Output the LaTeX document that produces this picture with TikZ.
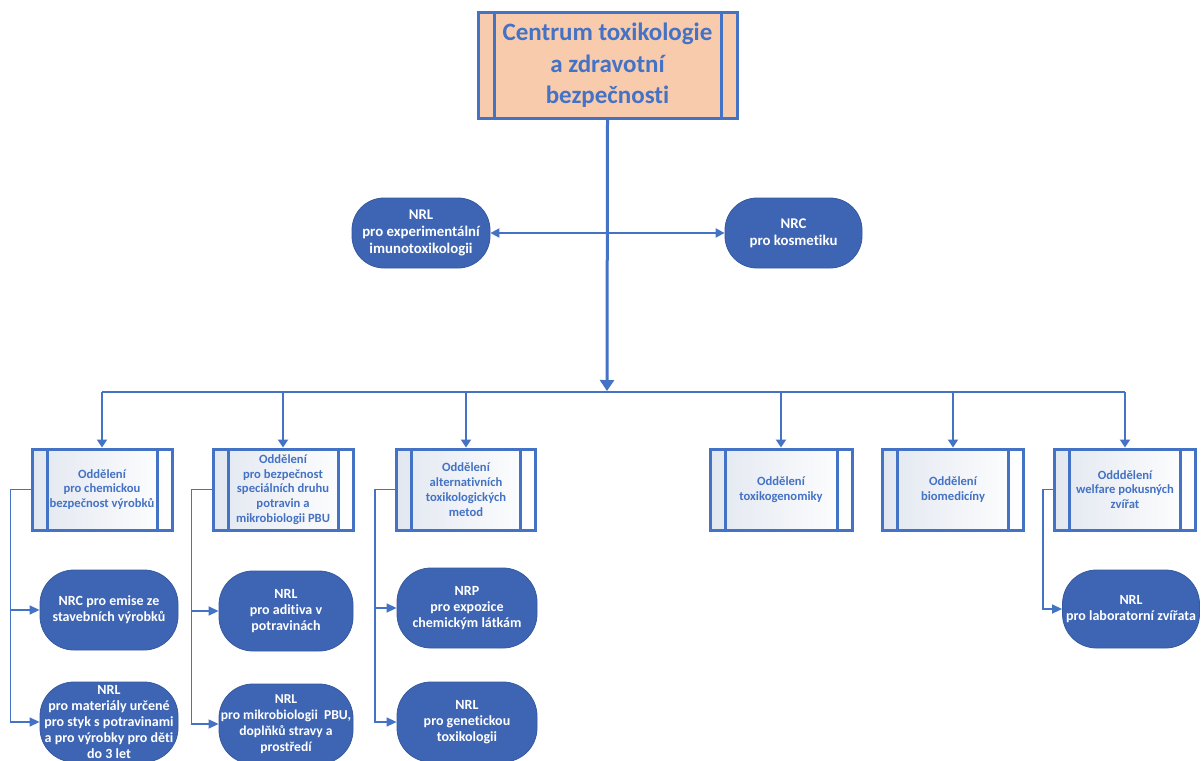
\documentclass[tikz,border=0pt]{standalone}
\usepackage{fontspec}
\setmainfont{Carlito}[Ligatures=NoCommon]
\usetikzlibrary{arrows.meta}

\definecolor{linkblue}{HTML}{4472C4}
\definecolor{labblue}{HTML}{3E65B3}
\definecolor{labedge}{HTML}{3559A0}
\definecolor{headfill}{HTML}{F8CBAD}
\definecolor{deptfill}{HTML}{E2E7F0}

\begin{document}
\begin{tikzpicture}[x=1pt,y=-1pt
		,every node/.append style={align=center, inner sep=0pt}
		,bars/.style={path picture={
			\draw[linkblue, line width=3pt]
				([xshift=#1]path picture bounding box.north west) -- ([xshift=#1]path picture bounding box.south west)
				([xshift=-#1]path picture bounding box.north east) -- ([xshift=-#1]path picture bounding box.south east);
		}}
		,head/.style={draw=linkblue, line width=3pt, fill=headfill, text=linkblue, bars=16pt
			,minimum width=259pt, minimum height=105pt, font=\fontsize{25pt}{31.5pt}\selectfont\bfseries}
		,dept/.style={draw=linkblue, line width=3pt, left color=deptfill, right color=white, text=linkblue, bars=15pt
			,minimum width=140pt, minimum height=81pt, font=\fontsize{12.6pt}{14.8pt}\selectfont\bfseries}
		,lab/.style={draw=labedge, line width=0.8pt, fill=labblue, text=white, rounded corners=34pt
			,minimum width=138pt, minimum height=80pt, font=\fontsize{14pt}{16pt}\selectfont\bfseries}
		,link/.style={draw=linkblue, line width=2pt}
		,side/.style={draw=linkblue, line width=1.4pt, -{Triangle[width=9pt,length=10pt]}}
	]
	\useasboundingbox (0,0) rectangle (1201,760);

	% centre
	\node [head] (centre) at (607.5,65.5) {Centrum toxikologie\\a zdravotní\\bezpečnosti};

	% NRL / NRC under the centre
	\node [lab, minimum height=70pt, rounded corners=32pt, font=\fontsize{14.8pt}{17pt}\selectfont\bfseries] (imuno) at (421,233) {NRL\\pro experimentální\\imunotoxikologii};
	\node [lab, minimum height=70pt, minimum width=137pt, rounded corners=32pt, font=\fontsize{14.8pt}{17pt}\selectfont\bfseries] (kosm) at (793.5,233) {NRC\\pro kosmetiku};

	% departments
	\node [dept] (chem) at (102,489.5) {Oddělení\\pro chemickou\\bezpečnost výrobků};
	\node [dept] (spec) at (283,489.5) {Oddělení\\pro bezpečnost\\speciálních druhu\\potravin a\\mikrobiologii PBU};
	\node [dept, minimum width=139pt] (alt) at (466,489.5) {Oddělení\\alternativních\\toxikologických\\metod};
	\node [dept, minimum width=142pt] (genom) at (781,489.5) {Oddělení\\toxikogenomiky};
	\node [dept, minimum width=141pt] (biomed) at (953,489.5) {Oddělení\\biomedicíny};
	\node [dept, minimum width=141pt] (welf) at (1125,489.5) {Odddělení\\welfare pokusných\\zvířat};

	% laboratories
	\node [lab] (emise) at (109,610) {NRC pro emise ze\\stavebních výrobků};
	\node [lab] (styk) at (109,722) {NRL\\pro materiály určené\\pro styk s potravinami\\a pro výrobky pro děti\\do 3 let};
	\node [lab, minimum width=134pt] (aditiva) at (286,611) {NRL\\pro aditiva v\\potravinách};
	\node [lab, minimum width=134pt, font=\fontsize{13.6pt}{16pt}\selectfont\bfseries] (mikro) at (286,724) {NRL\\pro mikrobiologii~~PBU,\\doplňků stravy a\\prostředí};
	\node [lab, minimum width=140pt] (expo) at (467,608) {NRP\\pro expozice\\chemickým látkám};
	\node [lab, minimum width=140pt] (genet) at (467,722) {NRL\\pro genetickou\\toxikologii};
	\node [lab, minimum width=137pt, minimum height=78pt] (zvirata) at (1131,609) {NRL\\pro laboratorní zvířata};

	% trunk and bar
	\coordinate (bar) at (607,392);
	\draw [link, line width=3pt, -{Triangle[width=14pt,length=11pt]}] (centre.south) -- ([yshift=1pt]bar);
	\draw [link, {Triangle[width=9pt,length=9pt]}-{Triangle[width=9pt,length=9pt]}] (imuno.east) -- (kosm.west);
	\draw [link, line width=2.5pt] (chem |- bar) -- (welf |- bar);
	\foreach \d in {chem,spec,alt,genom,biomed,welf}
		\draw [link, -{Triangle[width=10pt,length=8pt]}] (\d |- bar) -- (\d.north);

	% side connectors
	\draw [side] (chem.west) -- ++(-20,0) |- (emise.west);
	\draw [side] (chem.west) -- ++(-20,0) |- (styk.west);
	\draw [side] (spec.west) -- ++(-20,0) |- (aditiva.west);
	\draw [side] (spec.west) -- ++(-20,0) |- (mikro.west);
	\draw [side] (alt.west) -- ++(-20,0) |- (expo.west);
	\draw [side] (alt.west) -- ++(-20,0) |- (genet.west);
	\draw [side] (welf.west) -- ++(-10,0) |- (zvirata.west);
\end{tikzpicture}
\end{document}
